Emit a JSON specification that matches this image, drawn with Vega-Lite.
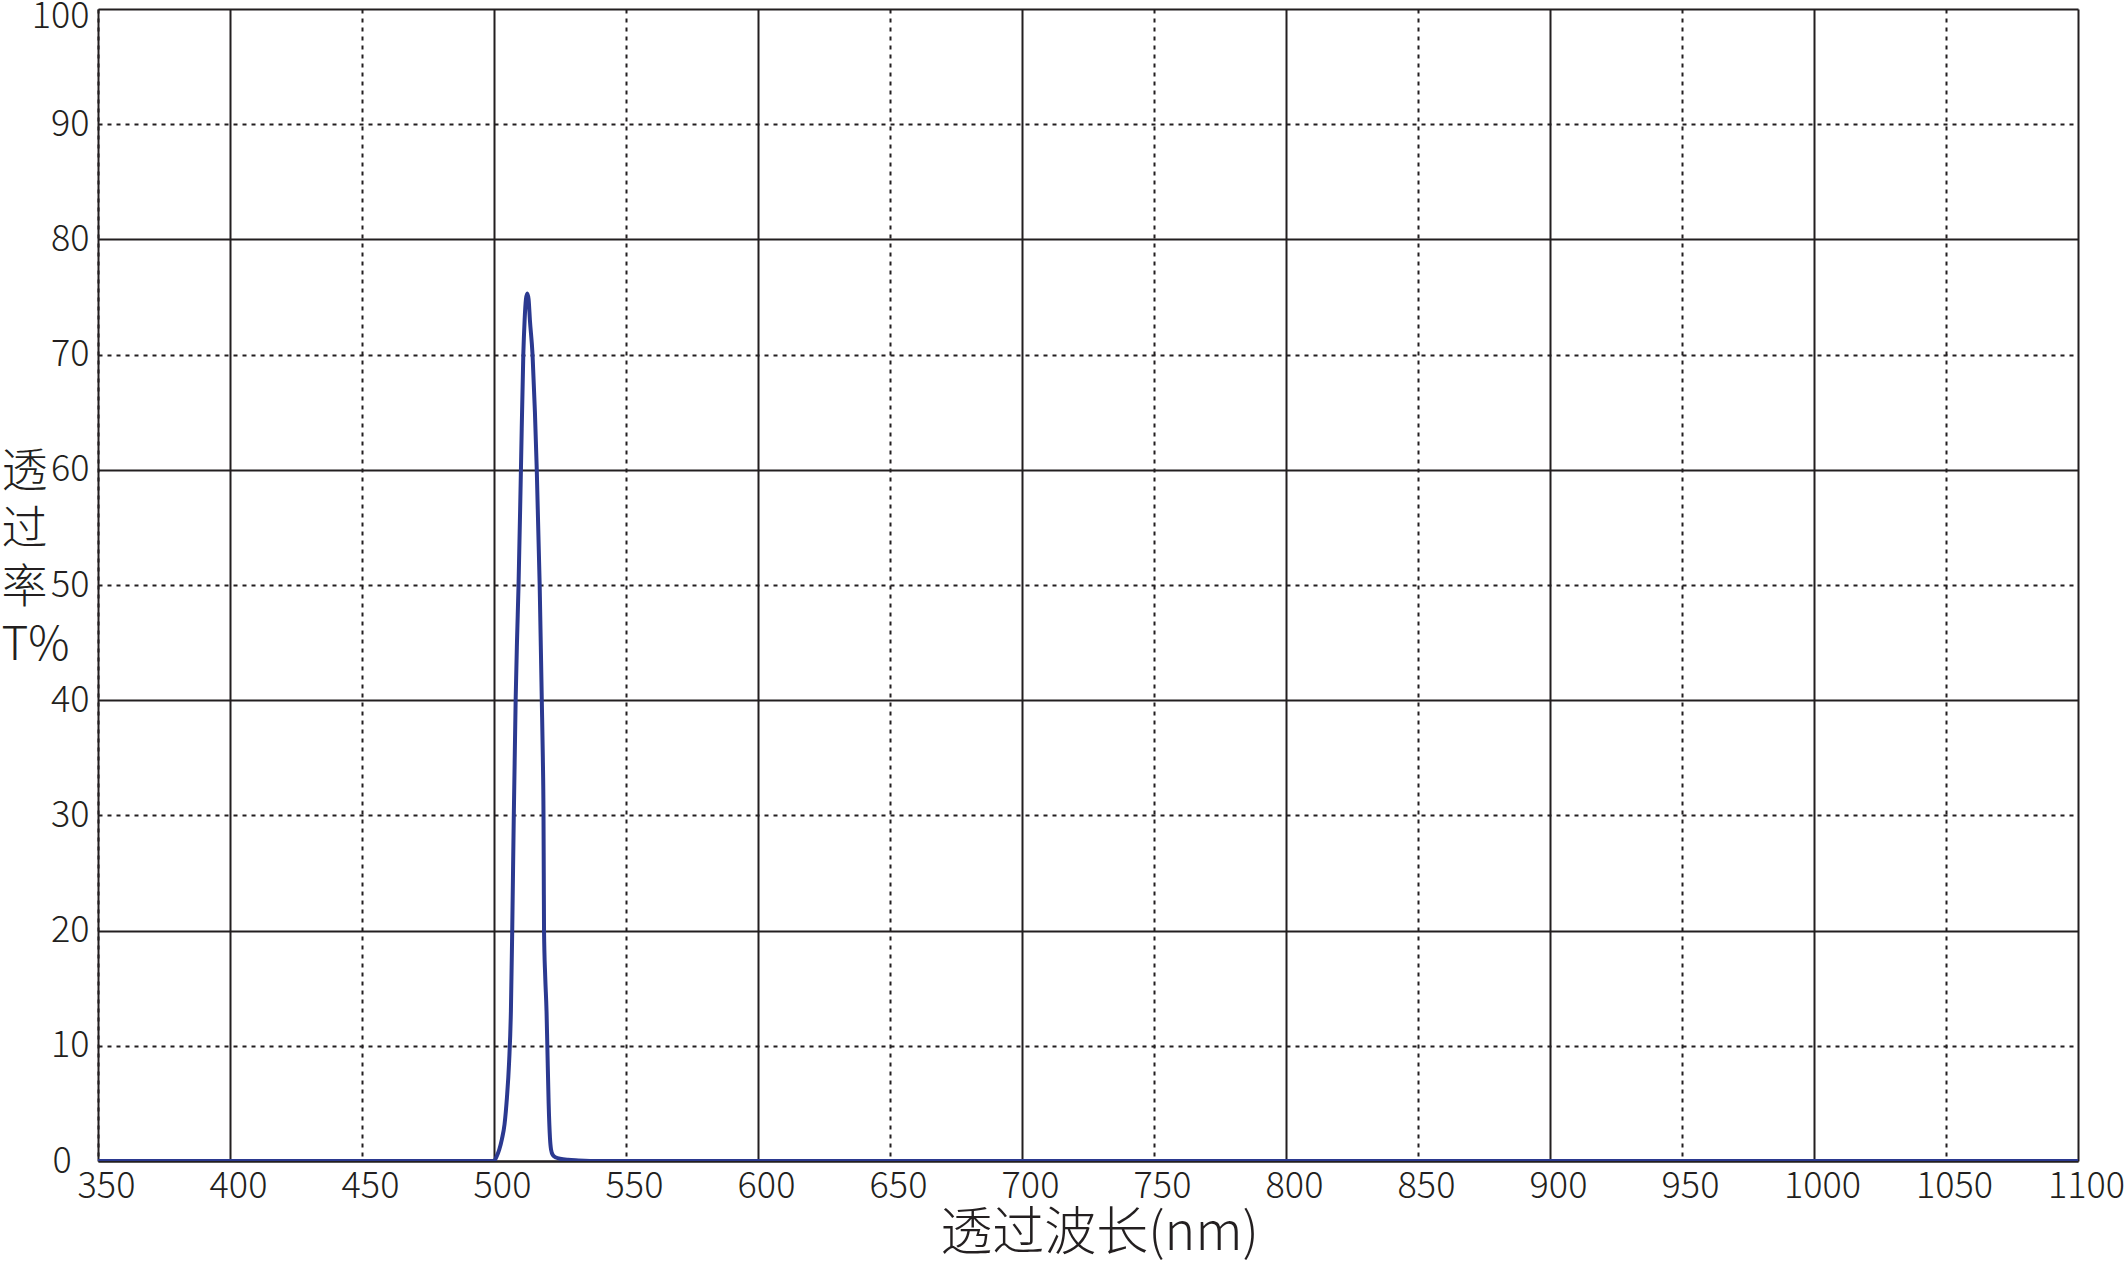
{
  "$schema": "https://vega.github.io/schema/vega-lite/v6.json",
  "width": 1980,
  "height": 1152,
  "autosize": "none",
  "padding": {"left": 98, "top": 9, "right": 49, "bottom": 100},
  "background": "white",
  "data": {
    "values": [
      {"nm": 350, "T": 0},
      {"nm": 450, "T": 0},
      {"nm": 499, "T": 0},
      {"nm": 500, "T": 0},
      {"nm": 501, "T": 0.4},
      {"nm": 502, "T": 1.0},
      {"nm": 503, "T": 1.9},
      {"nm": 504, "T": 3.2},
      {"nm": 504.9, "T": 5.5},
      {"nm": 505.7, "T": 8.5},
      {"nm": 506.4, "T": 13},
      {"nm": 506.9, "T": 20},
      {"nm": 507.5, "T": 30},
      {"nm": 508.2, "T": 40},
      {"nm": 508.7, "T": 45},
      {"nm": 509.3, "T": 50},
      {"nm": 510.2, "T": 60},
      {"nm": 511.1, "T": 70},
      {"nm": 511.6, "T": 73},
      {"nm": 512.1, "T": 74.8},
      {"nm": 512.6, "T": 75.3},
      {"nm": 513.1, "T": 74.8},
      {"nm": 513.6, "T": 73},
      {"nm": 514.6, "T": 70},
      {"nm": 515.5, "T": 65},
      {"nm": 516.2, "T": 60},
      {"nm": 517.3, "T": 50},
      {"nm": 518.1, "T": 40},
      {"nm": 518.5, "T": 35},
      {"nm": 518.75, "T": 30},
      {"nm": 518.85, "T": 25},
      {"nm": 518.95, "T": 20},
      {"nm": 519.4, "T": 16},
      {"nm": 519.9, "T": 13},
      {"nm": 520.2, "T": 10},
      {"nm": 520.7, "T": 5},
      {"nm": 521.2, "T": 2},
      {"nm": 521.6, "T": 1},
      {"nm": 522.3, "T": 0.5},
      {"nm": 523.5, "T": 0.3},
      {"nm": 525, "T": 0.2},
      {"nm": 528, "T": 0.1},
      {"nm": 532, "T": 0.05},
      {"nm": 540, "T": 0},
      {"nm": 700, "T": 0},
      {"nm": 1100, "T": 0}
    ]
  },
  "mark": {
    "type": "line",
    "color": "#2b3990",
    "strokeWidth": 4,
    "interpolate": "monotone",
    "clip": true
  },
  "encoding": {
    "x": {
      "field": "nm",
      "type": "quantitative",
      "scale": {"domain": [350, 1100], "nice": false, "zero": false},
      "axis": {
        "values": [350, 400, 450, 500, 550, 600, 650, 700, 750, 800, 850, 900, 950, 1000, 1050, 1100],
        "format": "d",
        "title": "透过波长(nm)",
        "titleFontSize": 52,
        "titleFontWeight": 300,
        "titleColor": "#231f20",
        "titleBaseline": "middle",
        "titleY": 72,
        "titleX": 1001,
        "ticks": false,
        "labelFontSize": 36,
        "labelFontWeight": 300,
        "labelColor": "#231f20",
        "labelPadding": 8,
        "labelOffset": 8,
        "labelFlush": false,
        "labelOverlap": false,
        "domainColor": "#231f20",
        "domainWidth": 2,
        "grid": true,
        "gridColor": "#231f20",
        "gridOpacity": 1,
        "gridWidth": 2,
        "gridDash": {"condition": {"test": "datum.value % 100 === 0", "value": []}, "value": [4, 5]}
      }
    },
    "y": {
      "field": "T",
      "type": "quantitative",
      "scale": {"domain": [0, 100], "nice": false},
      "axis": {
        "values": [0, 10, 20, 30, 40, 50, 60, 70, 80, 90, 100],
        "title": ["透", "过", "率", "T%"],
        "titleAngle": 0,
        "titleAlign": "left",
        "titleBaseline": "middle",
        "titleX": -97,
        "titleY": 462,
        "titleFontSize": 46,
        "titleFontWeight": 300,
        "titleLineHeight": 58,
        "titleColor": "#231f20",
        "ticks": false,
        "labelFontSize": 36,
        "labelFontWeight": 300,
        "labelColor": "#231f20",
        "labelAlign": {"condition": {"test": "datum.value === 0", "value": "left"}, "value": "right"},
        "labelPadding": {"condition": {"test": "datum.value === 0", "value": 46}, "value": 9},
        "labelOffset": {"condition": {"test": "datum.value === 100", "value": 7}, "value": 0},
        "labelFlush": false,
        "labelOverlap": false,
        "domainColor": "#231f20",
        "domainWidth": 2,
        "grid": true,
        "gridColor": "#231f20",
        "gridOpacity": 1,
        "gridWidth": 2,
        "gridDash": {"condition": {"test": "datum.value % 20 === 0", "value": []}, "value": [4, 5]}
      }
    }
  },
  "config": {
    "view": {"stroke": null},
    "font": "Noto Sans CJK SC"
  }
}
